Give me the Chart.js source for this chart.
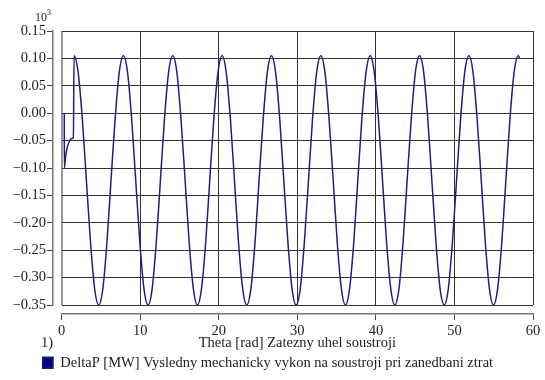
<!DOCTYPE html>
<html>
<head>
<meta charset="utf-8">
<script src="https://cdn.jsdelivr.net/npm/chart.js@4.4.0/dist/chart.umd.min.js"></script>
<style>
  html, body { margin: 0; padding: 0; background: #fff; }
</style>
</head>
<body>
<canvas id="graf" width="545" height="380"></canvas>
<script>
// Theta [rad] - zatezny uhel soustroji
const theta = [
  0.33, 0.34, 0.50, 0.70, 0.95, 1.27, 1.49,
  1.57, 2.09, 2.62, 3.14, 3.67, 4.19, 4.71, 5.24, 5.76, 6.28, 6.81, 7.33,
  7.85, 8.38, 8.90, 9.42, 9.95, 10.47, 11.00, 11.52, 12.04, 12.57, 13.09, 13.61,
  14.14, 14.66, 15.18, 15.71, 16.23, 16.76, 17.28, 17.80, 18.33, 18.85, 19.37, 19.90,
  20.42, 20.94, 21.47, 21.99, 22.51, 23.04, 23.56, 24.09, 24.61, 25.13, 25.66, 26.18,
  26.70, 27.23, 27.75, 28.27, 28.80, 29.32, 29.85, 30.37, 30.89, 31.42, 31.94, 32.46,
  32.99, 33.51, 34.03, 34.56, 35.08, 35.60, 36.13, 36.65, 37.18, 37.70, 38.22, 38.75,
  39.27, 39.79, 40.32, 40.84, 41.36, 41.89, 42.41, 42.94, 43.46, 43.98, 44.51, 45.03,
  45.55, 46.08, 46.60, 47.12, 47.65, 48.17, 48.69, 49.22, 49.74, 50.27, 50.79, 51.31,
  51.84, 52.36, 52.88, 53.41, 53.93, 54.45, 54.98, 55.50, 56.03, 56.55, 57.07, 57.60,
  58.12, 58.30
];

// DeltaP [10^3 MW]
const deltaP = [
  0.000, -0.100, -0.078, -0.063, -0.052, -0.046, -0.045,
  0.105, 0.075, -0.009, -0.122, -0.236, -0.320, -0.350, -0.320, -0.236, -0.122, -0.009, 0.075,
  0.105, 0.075, -0.009, -0.122, -0.236, -0.320, -0.350, -0.320, -0.236, -0.122, -0.009, 0.075,
  0.105, 0.075, -0.009, -0.122, -0.236, -0.320, -0.350, -0.320, -0.236, -0.122, -0.009, 0.075,
  0.105, 0.075, -0.009, -0.122, -0.236, -0.320, -0.350, -0.320, -0.236, -0.122, -0.009, 0.075,
  0.105, 0.075, -0.009, -0.122, -0.236, -0.320, -0.350, -0.320, -0.236, -0.122, -0.009, 0.075,
  0.105, 0.075, -0.009, -0.122, -0.236, -0.320, -0.350, -0.320, -0.236, -0.122, -0.009, 0.075,
  0.105, 0.075, -0.009, -0.122, -0.236, -0.320, -0.350, -0.320, -0.236, -0.122, -0.009, 0.075,
  0.105, 0.075, -0.009, -0.122, -0.236, -0.320, -0.350, -0.320, -0.236, -0.122, -0.009, 0.075,
  0.105, 0.075, -0.009, -0.122, -0.236, -0.320, -0.350, -0.320, -0.236, -0.122, -0.009, 0.075,
  0.105, 0.101
];

// osy
const xRozsah = [0, 60];
const xKrok = 10;
const yRozsah = [-0.35, 0.15];
const yKrok = 0.05;

const nazevX = 'Theta [rad] Zatezny uhel soustroji';
const nazevSerie = 'DeltaP [MW] Vysledny mechanicky vykon na soustroji pri zanedbani ztrat';

const patkove = '"Liberation Serif", "Times New Roman", serif';
const pismo = { family: patkove, size: 14.5 };

// popisky y: dve desetinna mista, typograficke minus
function popisY(v) {
  if (Math.abs(v) < 1e-9) return '0.00';
  return v.toFixed(2).replace('-', '\u2212');
}

// legenda posunuta pod popisek osy y (jako v predloze)
const posunLegendy = {
  id: 'posunLegendy',
  afterLayout(chart) {
    if (chart.legend) chart.legend.left += 42;
  }
};

// texty mimo osy: exponent a cislo grafu
const doplnky = {
  id: 'doplnky',
  afterDraw(chart) {
    const c = chart.ctx;
    c.save();
    c.fillStyle = '#222';
    c.textBaseline = 'alphabetic';
    c.font = '12px ' + patkove;
    c.fillText('10', 35, 21);
    c.font = '8px ' + patkove;
    c.fillText('3', 47, 15);
    c.font = '14.5px ' + patkove;
    c.fillText('1)', 41, 347);
    c.restore();
  }
};

const ctx = document.getElementById('graf').getContext('2d');

new Chart(ctx, {
  type: 'line',
  data: {
    datasets: [{
      label: nazevSerie,
      data: theta.map((t, i) => ({ x: t, y: deltaP[i] })),
      borderColor: '#1c1c8c',
      backgroundColor: '#000080',
      borderWidth: 1.5,
      pointRadius: 0,
      cubicInterpolationMode: 'monotone',
      fill: false
    }]
  },
  options: {
    responsive: false,
    animation: false,
    layout: { padding: { left: 0, right: 12, top: 31, bottom: 0 } },
    plugins: {
      legend: {
        position: 'bottom',
        align: 'start',
        labels: { font: pismo, color: '#222', boxWidth: 11, boxHeight: 11, padding: 0 }
      },
      tooltip: { enabled: false }
    },
    scales: {
      // mrizka v plose grafu
      x: {
        type: 'linear', position: 'bottom', weight: 0,
        min: xRozsah[0], max: xRozsah[1],
        ticks: { display: false, stepSize: xKrok },
        grid: {
          drawTicks: false,
          color: c => c.tick && c.tick.value === 0 ? '#999' : '#333',
          lineWidth: c => c.tick && c.tick.value === 0 ? 2 : 1
        },
        border: { display: false },
        afterFit: s => { s.height = 9; }
      },
      // odsazena osa x s popisky
      x2: {
        type: 'linear', position: 'bottom', weight: 1,
        min: xRozsah[0], max: xRozsah[1],
        ticks: { stepSize: xKrok, font: pismo, color: '#222', padding: 2, maxRotation: 0 },
        grid: { drawOnChartArea: false, tickLength: 6, color: '#444' },
        border: { color: '#777', width: 1.5 },
        title: { display: true, text: nazevX, font: pismo, color: '#222', padding: { top: 0, bottom: 4 } },
        afterFit: s => { s.height = 41.5; }
      },
      y: {
        type: 'linear', position: 'left', weight: 0,
        min: yRozsah[0], max: yRozsah[1],
        ticks: { display: false, stepSize: yKrok },
        grid: { drawTicks: false, color: '#333' },
        border: { display: false },
        afterFit: s => { s.width = 8.7; }
      },
      // odsazena osa y s popisky
      y2: {
        type: 'linear', position: 'left', weight: 1,
        min: yRozsah[0], max: yRozsah[1],
        ticks: { stepSize: yKrok, font: pismo, color: '#222', padding: 1, callback: v => popisY(v) },
        grid: { drawOnChartArea: false, tickLength: 6, color: '#444' },
        border: { color: '#777', width: 1.5 },
        afterFit: s => { s.width = 53; }
      }
    }
  },
  plugins: [posunLegendy, doplnky]
});
</script>
</body>
</html>
